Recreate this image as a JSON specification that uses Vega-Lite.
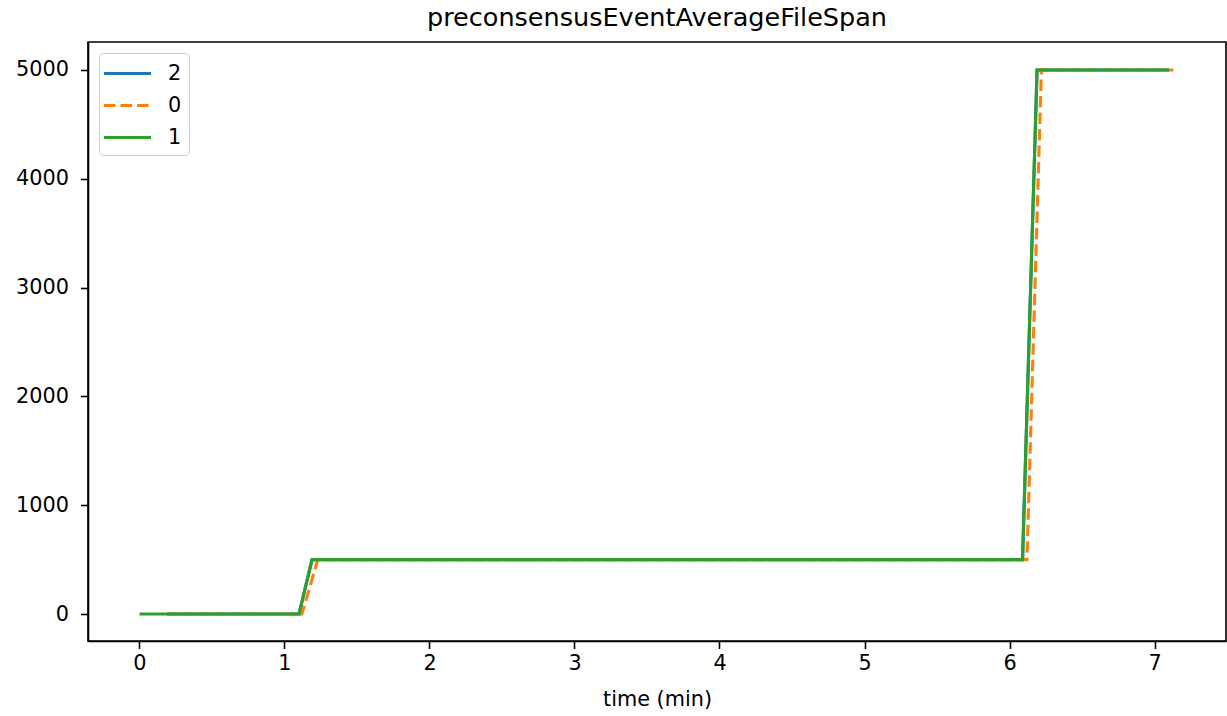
{
  "$schema": "https://vega.github.io/schema/vega-lite/v6.json",
  "width": 1138,
  "height": 599,
  "autosize": {"type": "none"},
  "padding": {"left": 88, "top": 42, "right": 1, "bottom": 75},
  "background": "white",
  "title": {"text": "preconsensusEventAverageFileSpan", "fontSize": 25.5, "fontWeight": "normal", "font": "DejaVu Sans", "color": "black", "offset": 11},
  "config": {
    "view": {"stroke": "black", "strokeWidth": 1.6},
    "axis": {"grid": false, "domainColor": "black", "tickColor": "black", "labelColor": "black", "titleColor": "black", "labelFont": "DejaVu Sans", "titleFont": "DejaVu Sans", "labelFontSize": 20.8, "titleFontSize": 20.8, "titleFontWeight": "normal", "tickSize": 7.5, "domainWidth": 1.6, "tickWidth": 1.6, "labelPadding": 5}
  },
  "data": {"values": [
    {"t": 0.19, "v": 0, "s": "2"},
    {"t": 1.10, "v": 0, "s": "2"},
    {"t": 1.19, "v": 500, "s": "2"},
    {"t": 6.09, "v": 500, "s": "2"},
    {"t": 6.19, "v": 5000, "s": "2"},
    {"t": 7.10, "v": 5000, "s": "2"},
    {"t": 0.19, "v": 0, "s": "0"},
    {"t": 1.12, "v": 0, "s": "0"},
    {"t": 1.23, "v": 500, "s": "0"},
    {"t": 6.12, "v": 500, "s": "0"},
    {"t": 6.22, "v": 5000, "s": "0"},
    {"t": 7.13, "v": 5000, "s": "0"},
    {"t": 0.0, "v": 0, "s": "1"},
    {"t": 1.10, "v": 0, "s": "1"},
    {"t": 1.19, "v": 500, "s": "1"},
    {"t": 6.09, "v": 500, "s": "1"},
    {"t": 6.19, "v": 5000, "s": "1"},
    {"t": 7.10, "v": 5000, "s": "1"}
  ]},
  "encoding": {
    "x": {"field": "t", "type": "quantitative", "title": "time (min)", "scale": {"domain": [-0.355, 7.493], "nice": false, "zero": false}, "axis": {"values": [0,1,2,3,4,5,6,7], "format": "d", "titlePadding": 16}},
    "y": {"field": "v", "type": "quantitative", "title": null, "scale": {"domain": [-248, 5257], "nice": false, "zero": false}, "axis": {"values": [0,1000,2000,3000,4000,5000], "format": "d", "labelPadding": 12}},
    "color": {"field": "s", "type": "nominal", "title": null, "scale": {"domain": ["2","0","1"], "range": ["#1f77b4","#ff7f0e","#2ca02c"]},
      "legend": {"orient": "none", "legendX": 11, "legendY": 11, "fillColor": "white", "strokeColor": "#cccccc", "cornerRadius": 4, "padding": 7, "symbolType": "M-2,0H2", "symbolSize": 552, "symbolOffset": 8, "symbolStrokeWidth": 3.1, "labelFontSize": 20.8, "labelFont": "DejaVu Sans", "labelColor": "black", "rowPadding": 8, "labelOffset": 27}},
    "strokeDash": {"field": "s", "type": "nominal", "title": null, "scale": {"domain": ["2","0","1"], "range": [[1,0],[11.5,5],[1,0]]},
      "legend": {"orient": "none", "legendX": 11, "legendY": 11, "fillColor": "white", "strokeColor": "#cccccc", "cornerRadius": 4, "padding": 7, "symbolType": "M-2,0H2", "symbolSize": 552, "symbolOffset": 8, "symbolStrokeWidth": 3.1, "labelFontSize": 20.8, "labelFont": "DejaVu Sans", "labelColor": "black", "rowPadding": 8, "labelOffset": 27}}
  },
  "layer": [
    {"transform": [{"filter": "datum.s === '2'"}], "mark": {"type": "line", "strokeWidth": 3.1, "clip": true}},
    {"transform": [{"filter": "datum.s === '0'"}], "mark": {"type": "line", "strokeWidth": 3.1, "clip": true}},
    {"transform": [{"filter": "datum.s === '1'"}], "mark": {"type": "line", "strokeWidth": 3.1, "clip": true}}
  ]
}
